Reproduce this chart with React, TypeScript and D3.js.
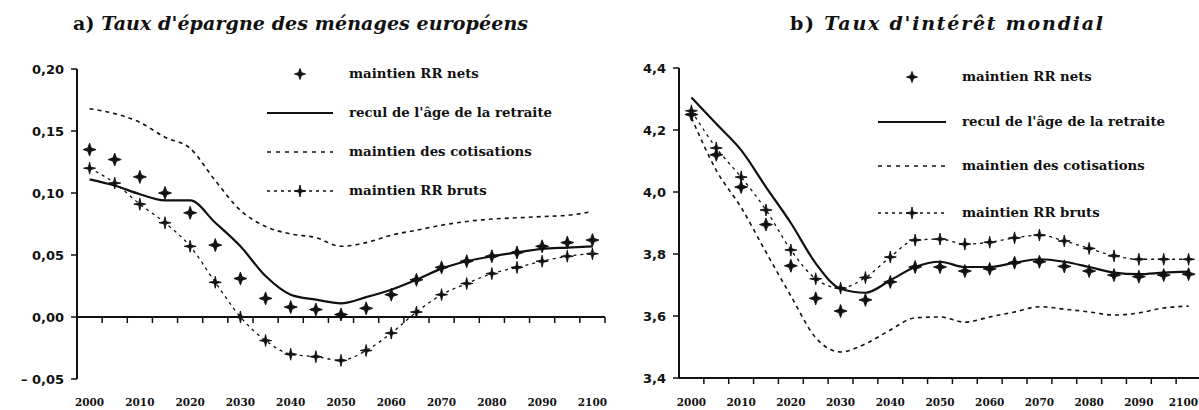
import React from 'react';
import * as d3 from 'd3';

// années (catégories de l'axe)
const YEARS = [2000, 2005, 2010, 2015, 2020, 2025, 2030, 2035, 2040, 2045, 2050,
  2055, 2060, 2065, 2070, 2075, 2080, 2085, 2090, 2095, 2100];
const YEAR_LABELS = [2000, 2010, 2020, 2030, 2040, 2050, 2060, 2070, 2080, 2090, 2100];

// a) taux d'épargne
const NETS_A   = [0.135, 0.127, 0.113, 0.100, 0.084, 0.058, 0.031, 0.015, 0.008, 0.006, 0.002, 0.007, 0.018, 0.030, 0.040, 0.045, 0.049, 0.052, 0.057, 0.060, 0.062];
const RECUL_A  = [0.111, 0.106, 0.099, 0.094, 0.094, 0.076, 0.057, 0.033, 0.018, 0.014, 0.011, 0.016, 0.022, 0.030, 0.039, 0.045, 0.049, 0.052, 0.055, 0.056, 0.057];
const COTIS_A  = [0.168, 0.164, 0.157, 0.145, 0.136, 0.110, 0.086, 0.073, 0.067, 0.064, 0.057, 0.060, 0.066, 0.070, 0.074, 0.077, 0.079, 0.080, 0.081, 0.082, 0.085];
const BRUTS_A  = [0.120, 0.108, 0.091, 0.076, 0.057, 0.028, 0.000, -0.019, -0.030, -0.032, -0.035, -0.027, -0.013, 0.004, 0.018, 0.027, 0.035, 0.040, 0.045, 0.049, 0.051];
const Y_TICKS_A = [0.20, 0.15, 0.10, 0.05, 0.00, -0.05];
const Y_LABELS_A = ['0,20', '0,15', '0,10', '0,05', '0,00', '\u2013 0,05'];

// b) taux d'intérêt
const NETS_B   = [4.250, 4.120, 4.016, 3.895, 3.762, 3.657, 3.616, 3.652, 3.710, 3.758, 3.758, 3.745, 3.752, 3.772, 3.775, 3.760, 3.745, 3.732, 3.727, 3.732, 3.735];
const RECUL_B  = [4.305, 4.220, 4.135, 4.016, 3.900, 3.770, 3.688, 3.675, 3.715, 3.758, 3.775, 3.758, 3.758, 3.772, 3.783, 3.775, 3.758, 3.740, 3.735, 3.740, 3.743];
const COTIS_B  = [4.240, 4.070, 3.950, 3.806, 3.665, 3.530, 3.484, 3.510, 3.555, 3.594, 3.597, 3.580, 3.597, 3.613, 3.630, 3.622, 3.613, 3.603, 3.610, 3.626, 3.632];
const BRUTS_B  = [4.262, 4.142, 4.048, 3.942, 3.813, 3.720, 3.690, 3.724, 3.790, 3.845, 3.848, 3.832, 3.838, 3.852, 3.861, 3.842, 3.818, 3.794, 3.783, 3.783, 3.783];
const Y_TICKS_B = [4.4, 4.2, 4.0, 3.8, 3.6, 3.4];
const Y_LABELS_B = ['4,4', '4,2', '4,0', '3,8', '3,6', '3,4'];

const LEGEND = ['maintien RR nets', "recul de l'âge de la retraite", 'maintien des cotisations', 'maintien RR bruts'];

const INK = '#111';
const SERIF = '"DejaVu Serif", "Liberation Serif", serif';
const W = 1199;

function Cross({ x, y, r = 6.5, w = 1.7 }: { x: number; y: number; r?: number; w?: number }) {
  const d = `M${x},${y - r}L${x + w},${y - w}L${x + r},${y}L${x + w},${y + w}L${x},${y + r}L${x - w},${y + w}L${x - r},${y}L${x - w},${y - w}Z`;
  return <path d={d} fill={INK} stroke={INK} strokeWidth={0.9} />;
}

function Panel(props: any) {
  const { x0, x1, yTop, yBot, domain, ticks, labels, axisAt, nets, recul, cotis, bruts, legend } = props;
  const x = d3.scaleBand<number>().domain(YEARS).range([x0, x1]);
  const y = d3.scaleLinear().domain(domain).range([yBot, yTop]);
  const cx = (yr: number) => (x(yr) as number) + x.bandwidth() / 2;
  const line = d3.line<number>()
    .x((_, i) => cx(YEARS[i]))
    .y(v => y(v))
    .curve(d3.curveMonotoneX);
  const axisY = y(axisAt);
  const bounds = YEARS.map(yr => x(yr) as number).concat([x1]);

  return (
    <g>
      {/* axe Y */}
      <line x1={x0} x2={x0} y1={yTop} y2={yBot} stroke={INK} strokeWidth={2} />
      {ticks.map((t: number, i: number) => (
        <g key={t}>
          <line x1={x0 - 6} x2={x0} y1={y(t)} y2={y(t)} stroke={INK} strokeWidth={1.5} />
          <text x={x0 - 13} y={y(t) + 5} textAnchor="end" fontFamily='"DejaVu Sans", sans-serif'
            fontWeight="bold" fontSize={13} fill={INK}>{labels[i]}</text>
        </g>
      ))}
      {/* axe X */}
      <line x1={x0} x2={Math.min(x1, W)} y1={axisY} y2={axisY} stroke={INK} strokeWidth={1.8} />
      {bounds.slice(1).map((bx, i) => (
        <line key={i} x1={bx} x2={bx} y1={axisY} y2={axisY + 6} stroke={INK} strokeWidth={1.5} />
      ))}
      {YEAR_LABELS.map(yr => {
        const px = cx(yr);
        const clip = px + 14 > W;
        return (
          <text key={yr} x={clip ? W - 1 : px} y={406} textAnchor={clip ? 'end' : 'middle'}
            fontFamily='"DejaVu Serif", serif' fontWeight="bold" fontSize={10.5} fill={INK}>{yr}</text>
        );
      })}

      {/* séries */}
      <path d={line(cotis) as string} fill="none" stroke={INK} strokeWidth={1.6} strokeDasharray="4 4" />
      <path d={line(bruts) as string} fill="none" stroke={INK} strokeWidth={1.3} strokeDasharray="3 4" />
      <path d={line(recul) as string} fill="none" stroke={INK} strokeWidth={2.2} />
      {bruts.map((v: number, i: number) => <Cross key={'b' + i} x={cx(YEARS[i])} y={y(v)} r={6} w={1.1} />)}
      {nets.map((v: number, i: number) => <Cross key={'n' + i} x={cx(YEARS[i])} y={y(v)} />)}

      {/* légende */}
      <g fontFamily={SERIF} fontWeight="bold" fontSize={13.3} fill={INK}>
        <Cross x={(legend.l0 + legend.l1) / 2} y={legend.ys[0]} r={5.5} w={1.4} />
        <line x1={legend.l0} x2={legend.l1} y1={legend.ys[1]} y2={legend.ys[1]} stroke={INK} strokeWidth={2.2} />
        <line x1={legend.l0} x2={legend.l1} y1={legend.ys[2]} y2={legend.ys[2]} stroke={INK} strokeWidth={1.6} strokeDasharray="4 5" />
        <line x1={legend.l0} x2={legend.l1} y1={legend.ys[3]} y2={legend.ys[3]} stroke={INK} strokeWidth={1.3} strokeDasharray="3 4" />
        <Cross x={(legend.l0 + legend.l1) / 2} y={legend.ys[3]} r={6} w={1.1} />
        {LEGEND.map((s, i) => (
          <text key={s} x={legend.tx} y={legend.ys[i] + 4}>{s}</text>
        ))}
      </g>
    </g>
  );
}

export default function App() {
  return (
    <div>
      <style>{'body{margin:0;background:#fff}'}</style>
      <svg width={W} height={410} style={{ display: 'block', background: '#fff' }}>
        <text x={73} y={30} fontFamily={SERIF} fontWeight="bold" fontSize={19} fill={INK}
          textLength={455} lengthAdjust="spacing">
          a) <tspan fontStyle="italic">Taux d'épargne des ménages européens</tspan>
        </text>
        <text x={790} y={30} fontFamily={SERIF} fontWeight="bold" fontSize={19} fill={INK}
          textLength={313} lengthAdjust="spacing">
          b) <tspan fontStyle="italic">Taux d'intérêt mondial</tspan>
        </text>
        <Panel x0={77} x1={605} yTop={69} yBot={379} domain={[-0.05, 0.20]}
          ticks={Y_TICKS_A} labels={Y_LABELS_A} axisAt={0}
          nets={NETS_A} recul={RECUL_A} cotis={COTIS_A} bruts={BRUTS_A}
          legend={{ l0: 267, l1: 333, tx: 349, ys: [74, 113, 152, 191] }} />
        <Panel x0={679} x1={1201} yTop={68} yBot={378} domain={[3.4, 4.4]}
          ticks={Y_TICKS_B} labels={Y_LABELS_B} axisAt={3.4}
          nets={NETS_B} recul={RECUL_B} cotis={COTIS_B} bruts={BRUTS_B}
          legend={{ l0: 878, l1: 946, tx: 962, ys: [77, 122, 166, 213] }} />
      </svg>
    </div>
  );
}
